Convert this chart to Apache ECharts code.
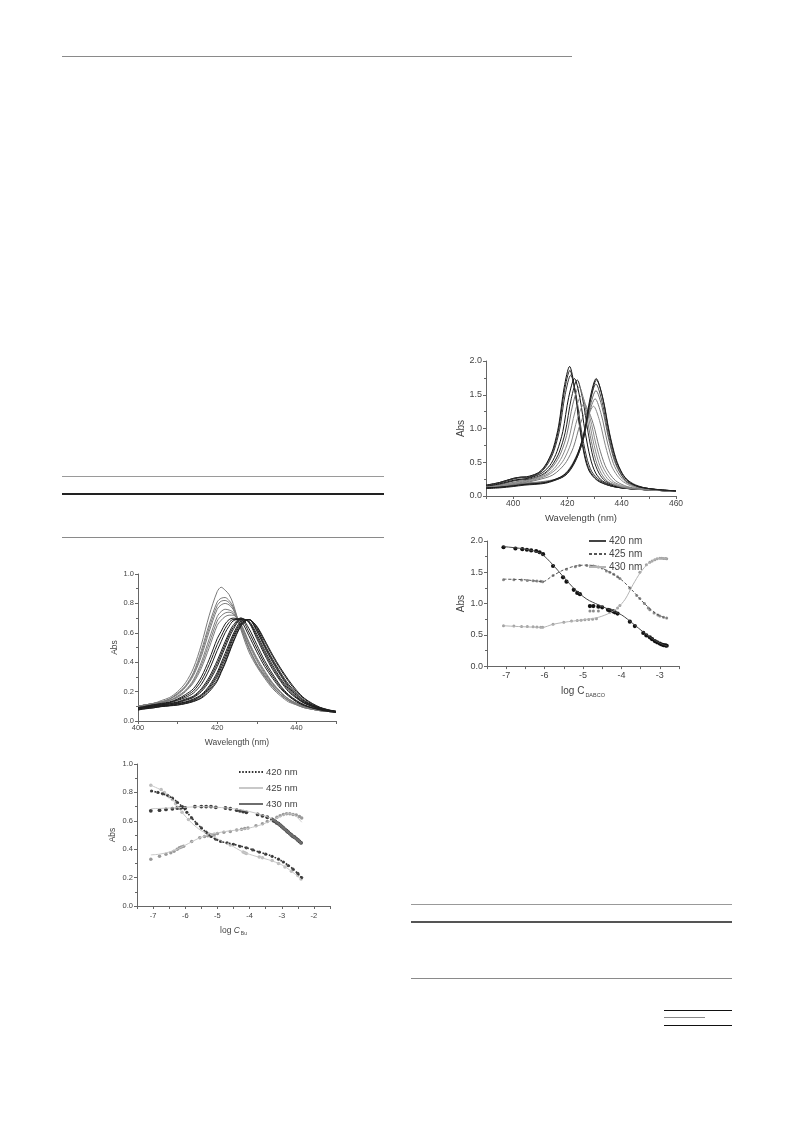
<!DOCTYPE html>
<html><head><meta charset="utf-8">
<script src="https://cdn.jsdelivr.net/npm/echarts@6/dist/echarts.min.js"></script>
<style>
body{margin:0;background:#fff;width:793px;height:1123px;position:relative;overflow:hidden}
.r{position:absolute;height:1px;background:#8a8a8a}
.ch{position:absolute}
</style>
</head><body>
<div class="r" style="left:62px;top:56px;width:510px;"></div>
<div class="r" style="left:62px;top:476px;width:322px;background:#9a9a9a"></div>
<div class="r" style="left:62px;top:493px;width:322px;height:2px;background:#222"></div>
<div class="r" style="left:62px;top:537px;width:322px;"></div>
<div class="r" style="left:411px;top:904px;width:321px;background:#999"></div>
<div class="r" style="left:411px;top:921px;width:321px;height:2px;background:#555"></div>
<div class="r" style="left:411px;top:978px;width:321px;"></div>
<div class="r" style="left:664px;top:1010px;width:68px;background:#111"></div>
<div class="r" style="left:664px;top:1017px;width:41px;background:#888"></div>
<div class="r" style="left:664px;top:1025px;width:68px;background:#111"></div>

<div id="c1" class="ch" style="left:90px;top:560px;width:260px;height:200px"></div>
<div id="c2" class="ch" style="left:90px;top:755px;width:260px;height:195px"></div>
<div id="c3" class="ch" style="left:440px;top:345px;width:260px;height:185px"></div>
<div id="c4" class="ch" style="left:440px;top:528px;width:260px;height:175px"></div>
<script>
// ---------- Chart 1: spectra (Bu titration) ----------
const bsWave = [400,402,404,406,408,410,412,414,416,418,420,421,422,423,424,426,428,430,432,434,436,438,440,442,444,446,448,450];
const bsSpectra = [
 [.10,.11,.12,.14,.16,.20,.26,.36,.52,.72,.88,.91,.89,.86,.80,.62,.47,.37,.29,.22,.17,.13,.11,.09,.08,.07,.065,.06],
 [.10,.11,.12,.13,.15,.19,.24,.33,.48,.66,.81,.835,.84,.82,.78,.63,.49,.38,.30,.23,.18,.14,.11,.09,.08,.07,.065,.06],
 [.10,.11,.12,.13,.15,.185,.235,.32,.46,.635,.785,.815,.82,.805,.77,.635,.495,.385,.305,.235,.18,.14,.113,.092,.08,.07,.065,.06],
 [.10,.11,.12,.13,.15,.18,.23,.31,.44,.61,.76,.79,.80,.79,.76,.64,.50,.39,.31,.24,.18,.14,.115,.095,.08,.07,.065,.06],
 [.10,.11,.12,.13,.14,.17,.21,.28,.40,.56,.71,.745,.76,.755,.74,.65,.52,.41,.32,.25,.19,.15,.12,.10,.085,.075,.065,.06],
 [.10,.11,.117,.127,.14,.165,.205,.27,.38,.53,.68,.715,.735,.74,.73,.655,.53,.42,.33,.255,.195,.15,.12,.10,.085,.075,.065,.06],
 [.10,.11,.115,.125,.14,.16,.20,.26,.36,.50,.65,.685,.71,.72,.72,.66,.54,.43,.34,.26,.20,.15,.12,.10,.085,.075,.065,.06],
 [.09,.10,.11,.12,.13,.15,.18,.22,.30,.42,.56,.61,.66,.69,.70,.68,.58,.47,.37,.29,.22,.17,.13,.105,.09,.075,.065,.06],
 [.09,.10,.11,.117,.127,.145,.17,.205,.275,.385,.52,.575,.63,.67,.69,.69,.605,.495,.39,.305,.23,.175,.135,.108,.09,.078,.068,.06],
 [.09,.10,.11,.115,.125,.14,.16,.19,.25,.35,.48,.54,.60,.645,.68,.70,.63,.52,.41,.32,.24,.18,.14,.11,.09,.08,.07,.06],
 [.09,.095,.105,.11,.12,.13,.15,.17,.22,.30,.41,.475,.54,.60,.65,.70,.67,.56,.45,.35,.27,.20,.155,.12,.10,.08,.07,.06],
 [.088,.095,.102,.11,.117,.127,.145,.165,.21,.285,.39,.455,.52,.585,.635,.695,.675,.575,.465,.365,.28,.21,.16,.122,.10,.083,.07,.063],
 [.085,.095,.10,.11,.115,.125,.14,.16,.20,.27,.37,.435,.50,.565,.62,.69,.68,.59,.48,.38,.29,.22,.165,.125,.10,.085,.07,.065],
 [.08,.09,.10,.105,.11,.12,.13,.15,.18,.24,.33,.395,.46,.525,.59,.68,.69,.61,.50,.40,.31,.23,.175,.13,.105,.085,.07,.065],
 [.08,.09,.097,.103,.108,.118,.128,.145,.175,.23,.315,.378,.44,.508,.575,.67,.69,.62,.51,.41,.32,.24,.183,.135,.108,.088,.073,.065],
 [.08,.09,.095,.10,.105,.115,.125,.14,.17,.22,.30,.36,.42,.49,.56,.66,.69,.63,.52,.42,.33,.25,.19,.14,.11,.09,.075,.065],
 [.075,.085,.09,.10,.105,.11,.12,.135,.16,.21,.28,.34,.40,.47,.54,.65,.69,.64,.54,.44,.35,.27,.20,.15,.115,.09,.075,.065],
 [.075,.083,.09,.098,.103,.108,.118,.132,.155,.20,.27,.33,.39,.46,.53,.645,.69,.645,.55,.45,.36,.28,.21,.155,.12,.093,.077,.066]
];
const bsXTicks = [400,420,440];

// ---------- Chart 2: Abs vs log C(Bu) ----------
const bu420Fit = [[-7.05,0.81],[-6.7,0.79],[-6.4,0.76],[-6.1,0.70],[-5.8,0.62],[-5.5,0.55],[-5.2,0.49],[-4.9,0.455],[-4.5,0.435],[-4.1,0.41],[-3.7,0.38],[-3.3,0.35],[-2.95,0.31],[-2.65,0.26],[-2.38,0.20]];
const bu425FitA = [[-7.07,0.85],[-6.7,0.81],[-6.4,0.75],[-6.1,0.66],[-5.8,0.585],[-5.5,0.53],[-5.2,0.50],[-4.9,0.46],[-4.6,0.43],[-4.2,0.38],[-3.8,0.35],[-3.4,0.325],[-3.0,0.29],[-2.7,0.245],[-2.4,0.19]];
const bu425FitB = [[-7.07,0.685],[-6.5,0.69],[-6.0,0.695],[-5.5,0.70],[-5.0,0.695],[-4.5,0.685],[-4.0,0.665],[-3.6,0.64],[-3.3,0.615]];
const bu425FitC = [[-7.07,0.36],[-6.8,0.365],[-6.5,0.38],[-6.2,0.405],[-5.9,0.44],[-5.6,0.475],[-5.3,0.50],[-5.0,0.515],[-4.6,0.53],[-4.2,0.54],[-3.9,0.555],[-3.6,0.575],[-3.3,0.605],[-3.0,0.635],[-2.8,0.65],[-2.6,0.64],[-2.38,0.59]];
const bu430Fit = [[-3.3,0.615],[-3.1,0.58],[-2.9,0.54],[-2.7,0.50],[-2.5,0.465],[-2.38,0.44]];
const bu420Pts = [[-7.05,0.81],[-6.85,0.80],[-6.7,0.79],[-6.55,0.78],[-6.4,0.76],[-6.25,0.73],[-6.1,0.70],[-5.95,0.66],[-5.8,0.62],[-5.65,0.58],[-5.5,0.55],[-5.35,0.52],[-5.2,0.49],[-5.05,0.47],[-4.9,0.455],[-4.7,0.445],[-4.5,0.435],[-4.3,0.42],[-4.1,0.41],[-3.9,0.395],[-3.7,0.38],[-3.5,0.365],[-3.3,0.35],[-3.1,0.33],[-2.95,0.31],[-2.8,0.285],[-2.65,0.26],[-2.5,0.23],[-2.38,0.20]];
const bu425Pts = [[-7.07,0.85],[-6.75,0.82],[-6.65,0.80],[-6.5,0.77],[-6.4,0.75],[-6.3,0.72],[-6.2,0.69],[-6.1,0.66],[-5.9,0.61],[-5.3,0.51],[-5.25,0.505],[-5.2,0.50],[-5.15,0.50],[-5.1,0.495],[-4.6,0.43],[-4.2,0.38],[-4.15,0.375],[-4.1,0.37],[-3.7,0.345],[-3.6,0.34],[-3.3,0.32],[-3.1,0.30],[-2.9,0.275],[-2.7,0.245],[-2.5,0.215],[-2.4,0.19]];
const bu430Pts = [[-7.07,0.67],[-6.8,0.675],[-6.6,0.68],[-6.4,0.685],[-6.25,0.69],[-6.15,0.69],[-6.08,0.695],[-6.0,0.69],[-5.7,0.70],[-5.5,0.70],[-5.35,0.70],[-5.2,0.70],[-5.05,0.695],[-4.75,0.69],[-4.6,0.685],[-4.4,0.675],[-4.3,0.67],[-4.2,0.665],[-4.1,0.66],[-3.75,0.645],[-3.6,0.635],[-3.45,0.625],[-3.3,0.61],[-3.25,0.60],[-3.2,0.595],[-3.15,0.585],[-3.1,0.58],[-3.05,0.57],[-3.0,0.56],[-2.95,0.55],[-2.9,0.54],[-2.85,0.53],[-2.8,0.52],[-2.75,0.51],[-2.7,0.50],[-2.65,0.49],[-2.6,0.485],[-2.55,0.475],[-2.5,0.465],[-2.45,0.455],[-2.4,0.445]];
const buRisePts = [[-7.07,0.33],[-6.8,0.35],[-6.6,0.365],[-6.45,0.375],[-6.35,0.385],[-6.25,0.40],[-6.18,0.41],[-6.12,0.415],[-6.05,0.42],[-5.8,0.455],[-5.55,0.48],[-5.4,0.49],[-5.3,0.495],[-5.2,0.50],[-5.1,0.505],[-5.0,0.51],[-4.8,0.52],[-4.6,0.525],[-4.4,0.535],[-4.25,0.54],[-4.15,0.545],[-4.05,0.55],[-3.8,0.565],[-3.6,0.58],[-3.45,0.595],[-3.3,0.61],[-3.15,0.625],[-3.05,0.635],[-2.95,0.645],[-2.85,0.65],[-2.75,0.65],[-2.65,0.645],[-2.55,0.64],[-2.45,0.63],[-2.38,0.62]];

// ---------- Chart 3: spectra (DABCO titration) ----------
const dabcoSpectra = [
 [[390,.16],[395,.20],[400,.26],[403,.28],[405,.285],[408.8,.335],[410.8,.40],[412.8,.52],[414.8,.71],[416.8,1.05],[418.8,1.61],[420.8,1.92],[422.6,1.61],[424.4,1.05],[426.2,.61],[428,.37],[431,.23],[435,.16],[440,.12],[450,.09],[460,.07]],
 [[390,.16],[395,.20],[400,.26],[403,.28],[405,.28],[408.9,.33],[410.9,.39],[412.9,.51],[414.9,.69],[416.9,1.02],[418.9,1.56],[420.9,1.86],[422.75,1.56],[424.6,1.03],[426.45,.60],[428.3,.37],[431,.24],[435,.16],[440,.12],[450,.09],[460,.07]],
 [[390,.15],[395,.19],[400,.25],[403,.27],[405,.27],[408.9,.32],[410.95,.38],[413,.49],[415.05,.67],[417.1,.98],[419.15,1.50],[421.2,1.79],[423.15,1.50],[425.1,.98],[427.05,.58],[429,.36],[432,.23],[436,.15],[440,.12],[450,.09],[460,.07]],
 [[390,.14],[395,.18],[401,.24],[405.4,.26],[409.7,.32],[411.85,.38],[414,.48],[416.15,.66],[418.3,.955],[420.45,1.46],[422.6,1.74],[424.55,1.46],[426.5,.955],[428.45,.56],[430.4,.34],[433,.22],[437,.15],[440,.12],[450,.09],[460,.07]],
 [[390,.14],[395,.17],[401,.23],[406,.25],[410.4,.31],[412.6,.37],[414.8,.48],[417,.65],[419.2,.945],[421.4,1.44],[423.6,1.72],[425.6,1.44],[427.6,.945],[429.6,.55],[431.6,.34],[434,.22],[438,.15],[442,.11],[450,.09],[460,.07]],
 [[390,.13],[395,.16],[401,.21],[406,.24],[410.5,.30],[412.8,.36],[415.1,.46],[417.4,.62],[419.7,.895],[422,1.36],[424.3,1.62],[426.35,1.36],[428.4,.895],[430.45,.53],[432.5,.33],[435,.21],[439,.14],[443,.11],[450,.09],[460,.07]],
 [[390,.13],[395,.15],[401,.20],[406,.23],[410.8,.29],[413.2,.34],[415.6,.43],[418,.58],[420.4,.83],[422.8,1.25],[425.2,1.49],[427.3,1.25],[429.4,.83],[431.5,.50],[433.6,.32],[436,.21],[440,.14],[444,.11],[450,.09],[460,.07]],
 [[390,.13],[395,.15],[401,.19],[406,.22],[411.2,.28],[413.7,.33],[416.2,.41],[418.7,.54],[421.2,.77],[423.7,1.15],[426.2,1.37],[428.35,1.15],[430.5,.77],[432.65,.47],[434.8,.31],[437,.21],[441,.14],[445,.11],[450,.09],[460,.07]],
 [[390,.12],[395,.14],[401,.18],[406,.21],[412,.27],[414.55,.31],[417.1,.39],[419.65,.51],[422.2,.72],[424.75,1.07],[427.3,1.27],[429.5,1.07],[431.7,.72],[433.9,.45],[436.1,.30],[438.3,.21],[442,.14],[446,.11],[450,.095],[460,.07]],
 [[390,.12],[395,.14],[400,.17],[404,.19],[410,.21],[415.2,.245],[417.6,.285],[420,.37],[422.4,.52],[424.8,.745],[427.2,1.12],[429.6,1.33],[431.8,1.12],[434,.745],[436.2,.45],[438.4,.30],[440.6,.21],[444,.14],[448,.11],[452,.09],[460,.07]],
 [[390,.12],[395,.13],[400,.16],[404,.18],[411,.21],[416.4,.25],[418.7,.30],[421,.40],[423.3,.56],[425.6,.80],[427.9,1.21],[430.2,1.44],[432.45,1.21],[434.7,.80],[436.95,.48],[439.2,.31],[441.45,.21],[445,.14],[449,.11],[453,.09],[460,.075]],
 [[390,.12],[395,.13],[400,.16],[404,.18],[412,.21],[417,.26],[419.25,.31],[421.5,.42],[423.75,.59],[426,.86],[428.25,1.31],[430.5,1.56],[432.8,1.31],[435.1,.86],[437.4,.51],[439.7,.32],[442,.21],[446,.14],[450,.11],[454,.09],[460,.075]],
 [[390,.12],[395,.13],[400,.15],[404,.17],[412,.20],[417.3,.27],[419.5,.33],[421.7,.44],[423.9,.63],[426.1,.91],[428.3,1.39],[430.5,1.66],[432.8,1.39],[435.1,.91],[437.4,.54],[439.7,.33],[442,.21],[446,.14],[450,.11],[454,.09],[460,.075]],
 [[390,.12],[395,.13],[400,.15],[404,.17],[412,.20],[417.4,.28],[419.6,.34],[421.8,.46],[424,.65],[426.2,.95],[428.4,1.46],[430.6,1.74],[432.95,1.46],[435.3,.95],[437.65,.56],[440,.34],[442.35,.22],[446,.14],[450,.11],[455,.09],[460,.075]],
 [[390,.11],[395,.12],[400,.14],[404,.16],[412,.19],[417.8,.27],[419.95,.33],[422.1,.45],[424.25,.64],[426.4,.935],[428.55,1.44],[430.7,1.72],[433.1,1.44],[435.5,.935],[437.9,.55],[440.3,.33],[442.7,.22],[446,.15],[450,.11],[455,.09],[460,.075]]
];
const dabcoXTicks = [400,420,440,460];

// ---------- Chart 4: Abs vs log C(DABCO) ----------
const d420Fit = [[-7.07,1.91],[-6.5,1.87],[-6.1,1.80],[-5.8,1.63],[-5.5,1.42],[-5.2,1.22],[-4.9,1.07],[-4.6,0.98],[-4.3,0.90],[-4.0,0.82],[-3.7,0.68],[-3.4,0.53],[-3.1,0.40],[-2.9,0.34],[-2.8,0.32]];
const d425Fit = [[-7.07,1.39],[-6.5,1.38],[-6.05,1.35],[-5.8,1.44],[-5.5,1.54],[-5.2,1.60],[-4.9,1.615],[-4.6,1.59],[-4.3,1.50],[-4.0,1.38],[-3.7,1.20],[-3.4,1.00],[-3.1,0.84],[-2.9,0.78],[-2.82,0.765]];
const d430Fit = [[-7.07,0.645],[-6.05,0.62],[-5.8,0.665],[-5.5,0.70],[-5.0,0.74],[-4.6,0.78],[-4.3,0.85],[-4.1,0.93],[-3.9,1.07],[-3.7,1.30],[-3.5,1.50],[-3.3,1.64],[-3.1,1.71],[-2.95,1.725],[-2.82,1.715]];
const d420Pts = [[-7.07,1.90],[-6.76,1.88],[-6.58,1.87],[-6.46,1.86],[-6.35,1.85],[-6.22,1.84],[-6.13,1.82],[-6.04,1.79],[-5.78,1.60],[-5.52,1.42],[-5.43,1.35],[-5.24,1.22],[-5.15,1.17],[-5.08,1.15],[-4.82,0.96],[-4.73,0.96],[-4.6,0.95],[-4.5,0.94],[-4.35,0.90],[-4.3,0.89],[-4.22,0.875],[-4.17,0.86],[-4.1,0.84],[-3.78,0.71],[-3.65,0.64],[-3.43,0.53],[-3.35,0.49],[-3.26,0.46],[-3.2,0.43],[-3.13,0.40],[-3.07,0.38],[-3.0,0.36],[-2.95,0.345],[-2.9,0.335],[-2.85,0.33],[-2.82,0.325]];
const d425Pts = [[-7.07,1.38],[-6.8,1.38],[-6.6,1.375],[-6.45,1.37],[-6.3,1.365],[-6.2,1.36],[-6.1,1.355],[-6.05,1.35],[-5.78,1.45],[-5.43,1.55],[-5.2,1.59],[-5.09,1.61],[-4.9,1.61],[-4.73,1.60],[-4.6,1.585],[-4.5,1.57],[-4.39,1.52],[-4.3,1.50],[-4.2,1.47],[-4.1,1.43],[-4.04,1.40],[-3.78,1.25],[-3.6,1.13],[-3.52,1.08],[-3.4,1.00],[-3.3,0.93],[-3.26,0.90],[-3.15,0.85],[-3.05,0.815],[-3.0,0.80],[-2.9,0.78],[-2.82,0.77],[-4.82,0.88],[-4.73,0.88],[-4.6,0.88]];
const d430Pts = [[-7.07,0.645],[-6.8,0.64],[-6.6,0.635],[-6.45,0.635],[-6.3,0.63],[-6.2,0.625],[-6.1,0.62],[-6.05,0.62],[-5.78,0.67],[-5.5,0.70],[-5.3,0.72],[-5.15,0.73],[-5.05,0.735],[-4.95,0.74],[-4.85,0.745],[-4.75,0.75],[-4.65,0.755],[-4.3,0.86],[-4.2,0.89],[-4.1,0.93],[-4.04,0.97],[-3.78,1.25],[-3.52,1.50],[-3.35,1.62],[-3.26,1.66],[-3.2,1.68],[-3.13,1.70],[-3.07,1.715],[-3.0,1.725],[-2.95,1.725],[-2.9,1.72],[-2.85,1.72],[-2.82,1.715]];

const legendNames = ['420 nm','425 nm','430 nm'];

// ---------- helpers ----------
const FONT = "'Liberation Sans', Arial, sans-serif";
const AX = '#666', TX = '#444';
function xAxisBase(o){
  return Object.assign({
    type:'value', splitLine:{show:false},
    axisLine:{show:true,onZero:false,lineStyle:{color:AX,width:1}},
    axisTick:{show:true,inside:false,length:3,lineStyle:{color:AX}},
    nameLocation:'middle'
  }, o);
}
function yAxisBase(o){
  return Object.assign({
    type:'value', splitLine:{show:false},
    axisLine:{show:true,onZero:false,lineStyle:{color:AX,width:1}},
    axisTick:{show:true,inside:false,length:3,lineStyle:{color:AX}},
    minorTick:{show:true,splitNumber:2,length:2,lineStyle:{color:AX}},
    minorSplitLine:{show:false},
    nameLocation:'middle', nameRotate:90, nameMoveOverlap:false
  }, o);
}
function spec(data,color){
  return {type:'line',data:data,symbol:'none',smooth:0.3,silent:true,
    lineStyle:{width:1,color:color},itemStyle:{color:color}};
}
function pts(data,color,size,sym){
  return {type:'scatter',data:data,symbol:sym||'circle',symbolSize:size,silent:true,
    itemStyle:{color:color,opacity:1}};
}
function fit(name,data,color,width,type){
  return {name:name,type:'line',data:data,symbol:'none',smooth:0.3,silent:true,
    lineStyle:{width:width,color:color,type:type||'solid'},itemStyle:{color:color}};
}
function legendData(){
  return legendNames.map(n=>({name:n,itemStyle:{opacity:0}}));
}

// ---------- Chart 1 ----------
const ch1 = echarts.init(document.getElementById('c1'));
ch1.setOption({
  animation:false,
  grid:{left:48,top:14,width:198,height:147},
  xAxis:xAxisBase({min:400,max:450,interval:10,name:'Wavelength (nm)',nameGap:17,
    nameTextStyle:{fontFamily:FONT,fontSize:8.5,color:TX},
    axisLabel:{margin:3,fontFamily:FONT,fontSize:7.5,color:TX,
      formatter:v=>bsXTicks.indexOf(v)>=0?String(v):''}}),
  yAxis:yAxisBase({min:0,max:1,interval:0.2,name:'Abs',nameGap:19,
    nameTextStyle:{fontFamily:FONT,fontSize:8.5,color:TX},
    axisLabel:{margin:4,fontFamily:FONT,fontSize:7.5,color:TX,formatter:v=>v.toFixed(1)}}),
  series:bsSpectra.map((c,i)=>spec(bsWave.map((w,j)=>[w,c[j]]), i<7?'#7a7a7a':'#1e1e1e'))
});

// ---------- Chart 2 ----------
const ch2 = echarts.init(document.getElementById('c2'));
ch2.setOption({
  animation:false,
  grid:{left:47,top:9,width:193,height:142},
  legend:{data:legendData(),orient:'vertical',left:148,top:12,itemWidth:24,itemHeight:8,itemGap:6,
    padding:0,selectedMode:false,itemStyle:{opacity:0},
    textStyle:{fontFamily:FONT,fontSize:9.5,color:TX,padding:[0,0,0,-2]}},
  xAxis:xAxisBase({min:-7.5,max:-1.5,interval:0.5,nameGap:15,
    name:'{n|log }{i|C}{s|Bu}',
    nameTextStyle:{fontFamily:FONT,fontSize:8.5,color:TX,rich:{
      n:{fontFamily:FONT,fontSize:8.5,color:TX,lineHeight:10},
      i:{fontFamily:FONT,fontSize:8.5,color:TX,fontStyle:'italic',lineHeight:10},
      s:{fontFamily:FONT,fontSize:5,color:TX,lineHeight:6,padding:[6,0,0,1]}}},
    axisLabel:{margin:6,fontFamily:FONT,fontSize:7.5,color:TX,
      formatter:v=>(Number.isInteger(v)&&v>-7.5&&v<-1.5)?String(v):''}}),
  yAxis:yAxisBase({min:0,max:1,interval:0.2,name:'Abs',nameGap:20,
    nameTextStyle:{fontFamily:FONT,fontSize:8.5,color:TX},
    axisLabel:{margin:4,fontFamily:FONT,fontSize:7.5,color:TX,formatter:v=>v.toFixed(1)}}),
  series:[
    fit('425 nm',bu425FitA,'#c8c8c8',1),
    fit('425 nm',bu425FitB,'#c8c8c8',1),
    fit('425 nm',bu425FitC,'#c8c8c8',1),
    fit('420 nm',bu420Fit,'#333333',1.6,[1.6,1.6]),
    fit('430 nm',bu430Fit,'#6e6e6e',2.5),
    pts(bu425Pts,'#bdbdbd',3.5),
    pts(buRisePts,'#9a9a9a',3.5),
    pts(bu420Pts,'#4a4a4a',3.2),
    pts(bu430Pts,'#3c3c3c',3.8)
  ]
});

// ---------- Chart 3 ----------
const ch3 = echarts.init(document.getElementById('c3'));
const c3Colors = ['#111','#222','#333','#111','#222','#777','#888','#888','#777','#888','#777','#666','#444','#111','#222'];
ch3.setOption({
  animation:false,
  grid:{left:46,top:16,width:190,height:135},
  xAxis:xAxisBase({min:390,max:460,interval:10,name:'Wavelength (nm)',nameGap:15,
    nameTextStyle:{fontFamily:FONT,fontSize:9.5,color:TX},
    axisLabel:{margin:3,fontFamily:FONT,fontSize:8.5,color:TX,
      formatter:v=>dabcoXTicks.indexOf(v)>=0?String(v):''}}),
  yAxis:yAxisBase({min:0,max:2,interval:0.5,name:'Abs',nameGap:20,
    nameTextStyle:{fontFamily:FONT,fontSize:10,color:TX},
    axisLabel:{margin:4,fontFamily:FONT,fontSize:9,color:TX,formatter:v=>v.toFixed(1)}}),
  series:dabcoSpectra.map((c,i)=>spec(c,c3Colors[i]))
});

// ---------- Chart 4 ----------
const ch4 = echarts.init(document.getElementById('c4'));
ch4.setOption({
  animation:false,
  grid:{left:47,top:13,width:192,height:135},
  legend:{data:legendData(),orient:'vertical',left:148,top:8,itemWidth:17,itemHeight:8,itemGap:3,
    padding:0,selectedMode:false,itemStyle:{opacity:0},
    textStyle:{fontFamily:FONT,fontSize:10,color:TX,padding:[0,0,0,-2]}},
  xAxis:xAxisBase({min:-7.5,max:-2.5,interval:0.5,nameGap:13,
    name:'{n|log }{i|C}{s|DABCO}',
    nameTextStyle:{fontFamily:FONT,fontSize:10,color:TX,rich:{
      n:{fontFamily:FONT,fontSize:10,color:TX,lineHeight:11},
      i:{fontFamily:FONT,fontSize:10,color:TX,lineHeight:11},
      s:{fontFamily:FONT,fontSize:5.5,color:TX,lineHeight:6,padding:[7,0,0,1]}}},
    axisLabel:{margin:5,fontFamily:FONT,fontSize:9,color:TX,
      formatter:v=>(Number.isInteger(v))?String(v):''}}),
  yAxis:yAxisBase({min:0,max:2,interval:0.5,name:'Abs',nameGap:21,
    nameTextStyle:{fontFamily:FONT,fontSize:10,color:TX},
    axisLabel:{margin:4,fontFamily:FONT,fontSize:9,color:TX,formatter:v=>v.toFixed(1)}}),
  series:[
    fit('430 nm',d430Fit,'#b4b4b4',1),
    fit('425 nm',d425Fit,'#555555',1,[3,2]),
    fit('420 nm',d420Fit,'#444444',1),
    pts(d430Pts,'#a0a0a0',3),
    pts(d425Pts,'#8c8c8c',3),
    pts(d420Pts,'#111111',4.2)
  ]
});
</script>
</body></html>
